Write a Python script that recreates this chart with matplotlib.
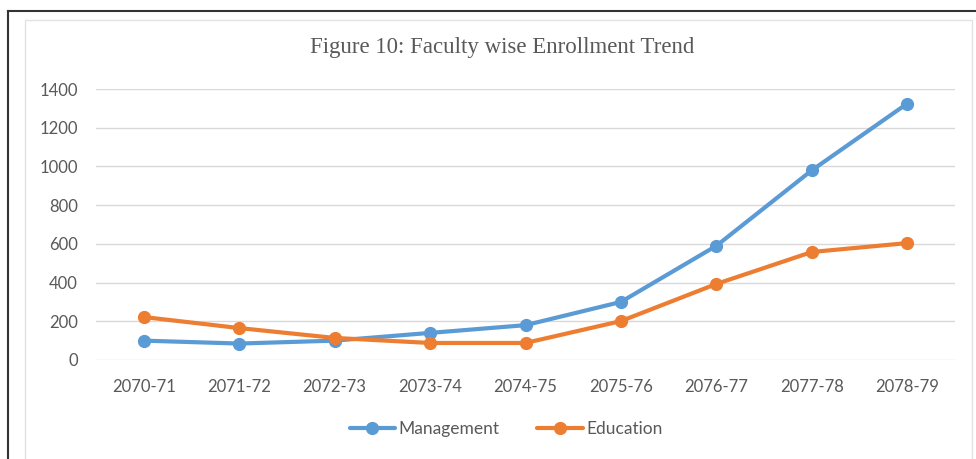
import matplotlib.pyplot as plt
from matplotlib.lines import Line2D
from matplotlib.patches import Rectangle

# Data
years = ['2070-71', '2071-72', '2072-73', '2073-74', '2074-75',
         '2075-76', '2076-77', '2077-78', '2078-79']
management = [100, 85, 100, 140, 180, 300, 590, 980, 1325]
education = [222, 165, 114, 88, 88, 201, 393, 558, 604]
yticks = [0, 200, 400, 600, 800, 1000, 1200, 1400]

W, H = 976, 459
fig = plt.figure(figsize=(W / 100, H / 100), dpi=100)

# frame: dark outer border (top/left) and light inner border
fig.add_artist(Line2D([8 / W, 1.0], [1 - 11 / H, 1 - 11 / H], color='#333333', lw=1.5))
fig.add_artist(Line2D([8 / W, 8 / W], [0, 1 - 11 / H], color='#333333', lw=1.5))
fig.add_artist(Rectangle((25 / W, -0.05), (972 - 25) / W, 1.05 - 20 / H,
                         fill=False, edgecolor='#e3e3e3', lw=1))

ax = fig.add_axes([96 / W, 1 - 360 / H, (955 - 96) / W, (360 - 89) / H])

x = range(len(years))
ax.plot(x, management, color='#5B9BD5', lw=3, marker='o', ms=8.5, label='Management',
        solid_capstyle='round')
ax.plot(x, education, color='#ED7D31', lw=3, marker='o', ms=8.5, label='Education',
        solid_capstyle='round')

ax.set_xlim(-0.5, len(years) - 0.5)
ax.set_ylim(0, 1400)
ax.set_yticks(yticks)
ax.set_xticks(list(x))
ax.set_xticklabels(years)
ax.grid(axis='y', color='#d9d9d9', lw=1)
ax.set_axisbelow(True)
for s in ax.spines.values():
    s.set_visible(False)
ax.tick_params(length=0, labelsize=12, labelcolor='#595959')
ax.tick_params(axis='y', pad=13)
ax.tick_params(axis='x', pad=14)
for lbl in ax.get_xticklabels() + ax.get_yticklabels():
    lbl.set_family('Lato')

fig.text(502 / W, 1 - 48 / H, 'Figure 10: Faculty wise Enrollment Trend',
         ha='center', va='center', fontsize=16.5, color='#595959', family='Liberation Serif')

leg = fig.legend(loc='center', bbox_to_anchor=(506 / W, 1 - 429 / H), ncol=2, frameon=False,
                 prop={'family': 'Lato', 'size': 12.5}, handlelength=2.6, columnspacing=2.2,
                 handletextpad=0.2)
for t in leg.get_texts():
    t.set_color('#595959')

fig.savefig('out.png', dpi=100)
